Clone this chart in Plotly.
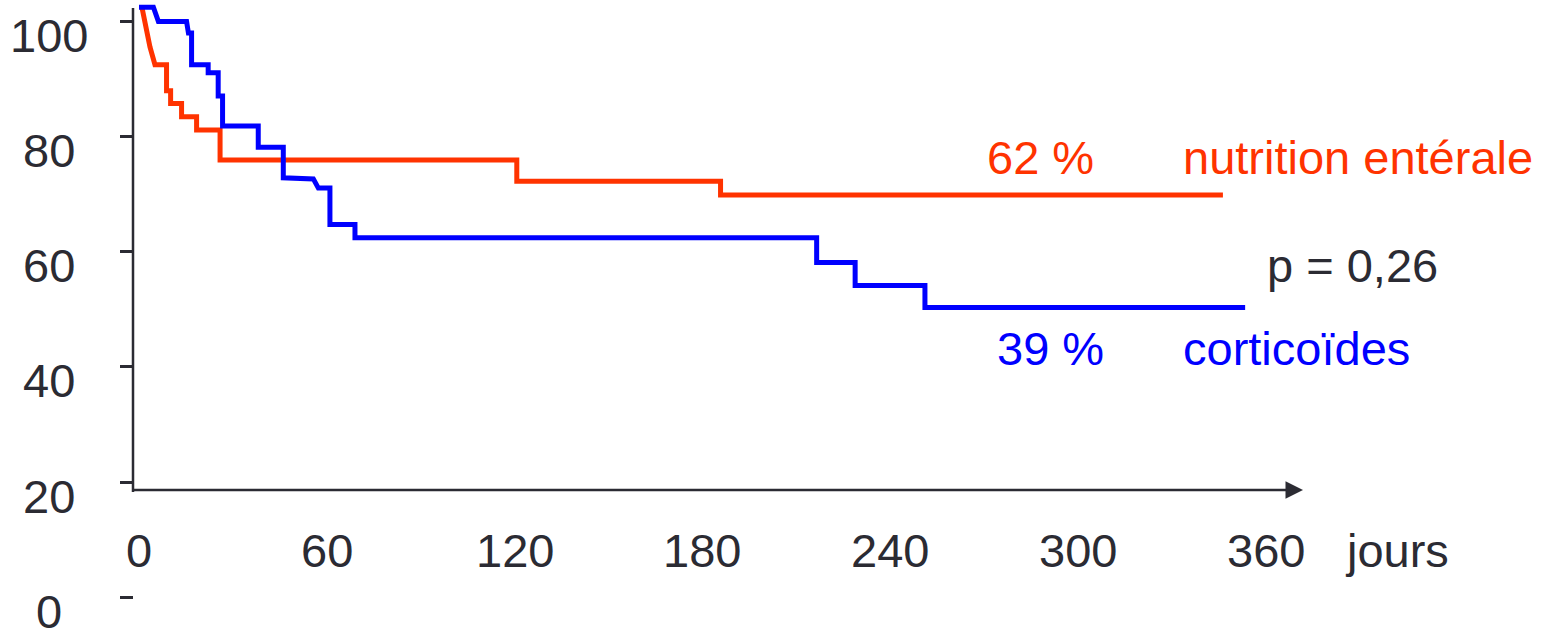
import plotly.graph_objects as go

# ---- data ----
days_cortico = [0, 4.6, 6.2, 15.2, 15.8, 16.8, 16.8, 22.1, 22.1, 25.3, 25.3, 26.7, 26.7, 38.1, 38.1,
                46.1, 46.1, 55.7, 57.3, 61.0, 61.0, 69.0, 69.0, 216.5, 216.5, 228.8, 228.8, 251.1, 251.1, 353.4]
surv_cortico = [102.4, 102.4, 99.9, 99.9, 97.9, 97.9, 92.4, 92.4, 91.0, 91.0, 87.0, 87.0, 81.8, 81.8, 78.1,
                78.1, 72.8, 72.6, 71.0, 71.0, 64.7, 64.7, 62.4, 62.4, 58.1, 58.1, 54.1, 54.1, 50.3, 50.3]

days_nutri = [1, 3.5, 5.1, 8.8, 8.8, 10.1, 10.1, 13.6, 13.6, 18.4, 18.4, 25.9, 25.9, 120.7, 120.7,
              185.8, 185.8, 346.3]
surv_nutri = [102.2, 95.5, 92.4, 92.4, 87.9, 87.9, 85.7, 85.7, 83.4, 83.4, 81.1, 81.1, 75.9, 75.9, 72.2,
              72.2, 69.8, 69.8]

y_ticks = [0, 20, 40, 60, 80, 100]
x_ticks = [0, 60, 120, 180, 240, 300, 360]
x_unit = "jours"
label_nutri = "nutrition entérale"
label_cortico = "corticoïdes"
pct_nutri = "62 %"
pct_cortico = "39 %"
p_value = "p = 0,26"

# ---- styling ----
W, H = 1549, 631
RED = "#ff3300"
BLUE = "#0000ff"
INK = "#2b2b33"
FONT = "Liberation Sans, Arial, sans-serif"
FS = 47

# pixel geometry of the scale (screen pixels)
X0PX, XPXD = 139.0, 3.13     # pixel of day 0, pixels per day
Y100PX, YPXU = 21.0, 5.7625  # pixel of 100, pixels per unit

def xr(px):
    return (px - X0PX) / XPXD

def yr(py):
    return 100 - (py - Y100PX) / YPXU

def xp(px):  # screen pixel -> paper fraction
    return px / W

fig = go.Figure()
fig.add_trace(go.Scatter(x=days_nutri, y=surv_nutri, mode="lines",
                         line=dict(color=RED, width=5), hoverinfo="skip"))
fig.add_trace(go.Scatter(x=days_cortico, y=surv_cortico, mode="lines",
                         line=dict(color=BLUE, width=5), hoverinfo="skip"))

fig.update_layout(
    width=W, height=H, margin=dict(l=0, r=0, t=0, b=0),
    paper_bgcolor="white", plot_bgcolor="white", showlegend=False,
    xaxis=dict(range=[xr(0), xr(W)], visible=False),
    yaxis=dict(range=[yr(H), yr(0)], anchor="free", position=xp(133),
               tickmode="array", tickvals=y_ticks, ticks="outside", ticklen=13,
               tickwidth=3, tickcolor=INK, showticklabels=False,
               showgrid=False, zeroline=False, showline=False),
)

# y-axis line
fig.add_shape(type="line", xref="paper", yref="y", x0=xp(133), x1=xp(133),
              y0=yr(492), y1=yr(8), line=dict(color=INK, width=2.5))

# x-axis line with arrow
fig.add_annotation(x=xr(1303), y=yr(490), ax=xr(132), ay=yr(490), xref="x", yref="y",
                   axref="x", ayref="y", text="", showarrow=True, arrowhead=2,
                   arrowsize=1.4, arrowwidth=2.5, arrowcolor=INK, standoff=0, startstandoff=0)

# y tick labels
for v in y_ticks:
    fig.add_annotation(x=xp(48.5), xref="paper", y=v, yref="y", yshift=-14,
                       text=str(v), showarrow=False, xanchor="center", yanchor="middle",
                       font=dict(family=FONT, size=FS, color=INK))

# x tick labels
for v in x_ticks:
    fig.add_annotation(x=v, xref="x", y=yr(550), yref="y", text=str(v), showarrow=False,
                       xanchor="center", yanchor="middle",
                       font=dict(family=FONT, size=FS, color=INK))
fig.add_annotation(x=xp(1343), xref="paper", y=yr(550), yref="y", text=x_unit, showarrow=False,
                   xanchor="left", yanchor="middle", font=dict(family=FONT, size=FS, color=INK))

# series labels
def txt(px, py, s, color, anchor="left"):
    fig.add_annotation(x=xp(px), xref="paper", y=yr(py), yref="y", text=s, showarrow=False,
                       xanchor=anchor, yanchor="middle", font=dict(family=FONT, size=FS, color=color))

txt(1040, 157, pct_nutri, RED, "center")
txt(1181, 157, label_nutri, RED)
txt(1050, 348.5, pct_cortico, BLUE, "center")
txt(1181, 348.5, label_cortico, BLUE)
txt(1265, 265, p_value, INK)

fig.write_html("out.html", config={"displayModeBar": False},
               post_script="document.body.style.margin='0';document.body.style.overflow='hidden';")
